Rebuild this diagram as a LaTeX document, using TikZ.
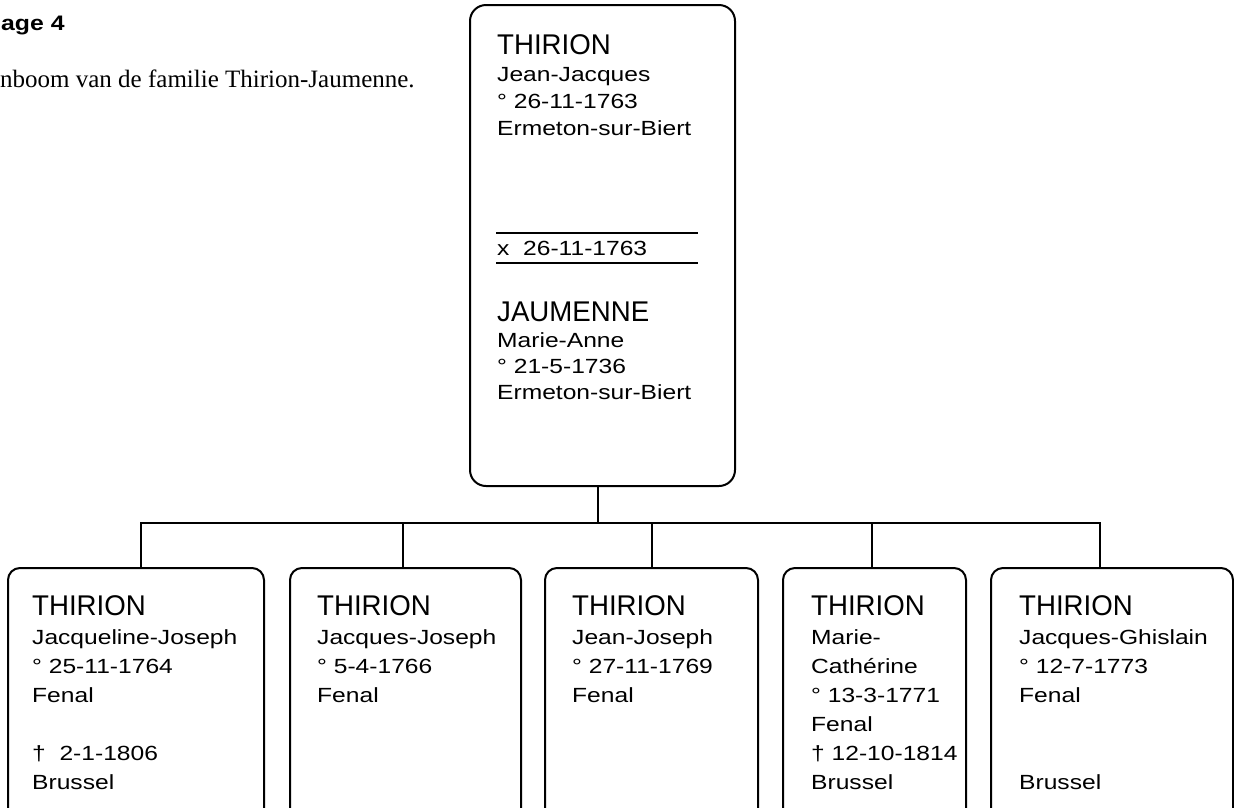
\documentclass[tikz,border=0pt]{standalone}
\usepackage{fontspec}
\setmainfont{Liberation Sans}
\newfontfamily\namefont[FakeStretch=0.97]{Liberation Sans}
\newfontfamily\bodyfont[FakeStretch=1.2]{Liberation Sans}
\newfontfamily\headfont[FakeStretch=1.18]{Liberation Sans}
\newfontfamily\capfont{Liberation Serif}
\tikzset{
  box/.style={draw, line width=2pt, rounded corners=12pt, inner sep=0pt},
  conn/.style={line width=2.3pt},
  rule/.style={line width=2pt},
  famname/.style={anchor=base west, inner sep=0pt, font=\namefont\fontsize{28.5}{30}\selectfont},
  body/.style={anchor=base west, inner sep=0pt, font=\bodyfont\fontsize{20.5}{24}\selectfont},
}
\begin{document}
\begin{tikzpicture}[x=1pt,y=-1pt]
\useasboundingbox (0,0) rectangle (1234,807);
\begin{scope}
\clip (0,0) rectangle (1234,807);
% heading
\node[anchor=base west, inner sep=0pt, font=\headfont\bfseries\fontsize{21}{24}\selectfont] (title) at (1,30) {age 4};
\node[anchor=base west, inner sep=0pt, font=\capfont\fontsize{25}{28}\selectfont] (caption) at (0,87) {nboom van de familie Thirion-Jaumenne.};
% parents box
\node[box, rounded corners=16pt, minimum width=265pt, minimum height=481pt] (top) at (602.5,245.5) {};
\node[famname] (p1) at (497,54) {THIRION};
\foreach \t [count=\i] in {Jean-Jacques, ° 26-11-1763, Ermeton-sur-Biert}
  \node[body] (p1l\i) at (497,{54+\i*27}) {\t};
\draw[rule] (496,233) -- (698,233);
\node[body] (marr) at (497,255) {x\ \ 26-11-1763};
\draw[rule] (496,263) -- (698,263);
\node[famname] (p2) at (497,321) {JAUMENNE};
\foreach \t [count=\i] in {Marie-Anne, ° 21-5-1736, Ermeton-sur-Biert}
  \node[body] (p2l\i) at (497,{321+\i*26}) {\t};
% children boxes
\node[box, minimum width=256pt, minimum height=272pt] (c1) at (136,704) {};
\node[box, minimum width=231pt, minimum height=272pt] (c2) at (405.5,704) {};
\node[box, minimum width=213pt, minimum height=272pt] (c3) at (651.5,704) {};
\node[box, minimum width=183pt, minimum height=272pt] (c4) at (874.5,704) {};
\node[box, minimum width=242pt, minimum height=272pt] (c5) at (1112,704) {};
% child texts
\node[famname] (n1) at (32,615) {THIRION};
\foreach \t [count=\i] in {Jacqueline-Joseph, ° 25-11-1764, Fenal, {}, †\ \ 2-1-1806, Brussel}
  \node[body] (c1l\i) at (32,{615+\i*29}) {\t};
\node[famname] (n2) at (317,615) {THIRION};
\foreach \t [count=\i] in {Jacques-Joseph, ° 5-4-1766, Fenal}
  \node[body] (c2l\i) at (317,{615+\i*29}) {\t};
\node[famname] (n3) at (572,615) {THIRION};
\foreach \t [count=\i] in {Jean-Joseph, ° 27-11-1769, Fenal}
  \node[body] (c3l\i) at (572,{615+\i*29}) {\t};
\node[famname] (n4) at (811,615) {THIRION};
\foreach \t [count=\i] in {Marie-, Cathérine, ° 13-3-1771, Fenal, † 12-10-1814, Brussel}
  \node[body] (c4l\i) at (811,{615+\i*29}) {\t};
\node[famname] (n5) at (1019,615) {THIRION};
\foreach \t [count=\i] in {Jacques-Ghislain, ° 12-7-1773, Fenal, {}, {}, Brussel}
  \node[body] (c5l\i) at (1019,{615+\i*29}) {\t};
% connectors
\coordinate (j0) at (598,523);
\coordinate (k1) at (141,523);
\coordinate (k2) at (403,523);
\coordinate (k3) at (652,523);
\coordinate (k4) at (872,523);
\coordinate (k5) at (1100,523);
\draw[conn] (top.south -| j0) -- (j0);
\draw[conn] (c1.north -| k1) -- (k1) -- (k5) -- (c5.north -| k5);
\draw[conn] (k2) -- (c2.north -| k2);
\draw[conn] (k3) -- (c3.north -| k3);
\draw[conn] (k4) -- (c4.north -| k4);
\end{scope}
\end{tikzpicture}
\end{document}
